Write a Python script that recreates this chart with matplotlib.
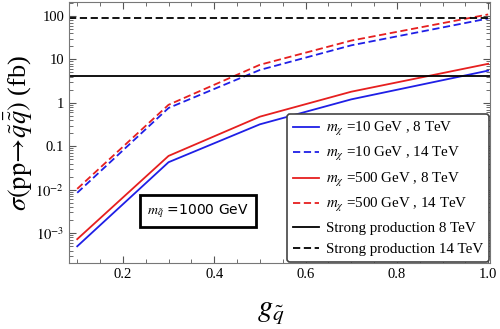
import matplotlib.pyplot as plt
import numpy as np
from matplotlib.ticker import FixedLocator, FuncFormatter, LogLocator, MultipleLocator

# couplings
g = [0.1, 0.3, 0.5, 0.7, 1.0]
# cross sections (fb)
sig_10_8 = [5.0e-4, 0.043, 0.32, 1.2, 5.5]
sig_10_14 = [8.5e-3, 0.76, 5.7, 21.0, 87.0]
sig_500_8 = [7.3e-4, 0.06, 0.48, 1.8, 7.9]
sig_500_14 = [1.05e-2, 0.9, 7.5, 27.0, 108.0]
strong_8 = 4.2
strong_14 = 90.0

plt.rcParams['font.family'] = ['Liberation Serif', 'DejaVu Serif']
plt.rcParams['mathtext.fontset'] = 'stix'

fig = plt.figure(figsize=(5, 3.29), dpi=100)
ax = fig.add_axes([0.138, 0.2, 0.842, 0.794])

ax.plot(g, sig_10_8, color='#1f1fe6', lw=1.3, label=r'$m_\chi$ =10 GeV , 8 TeV')
ax.plot(g, sig_10_14, color='#1f1fe6', lw=1.3, ls=(0, (4, 2)), label=r'$m_\chi$ =10 GeV , 14 TeV')
ax.plot(g, sig_500_8, color='#e61f1f', lw=1.3, label=r'$m_\chi$ =500 GeV , 8 TeV')
ax.plot(g, sig_500_14, color='#e61f1f', lw=1.3, ls=(0, (4, 2)), label=r'$m_\chi$ =500 GeV , 14 TeV')
ax.axhline(strong_8, color='black', lw=1.3, label='Strong production 8 TeV')
ax.axhline(strong_14, color='black', lw=1.3, ls=(0, (4, 2)), label='Strong production 14 TeV')

ax.set_yscale('log')
ax.set_xlim(0.082, 1.004)
ax.set_ylim(10**-3.69, 10**2.32)

ax.xaxis.set_major_locator(FixedLocator([0.2, 0.4, 0.6, 0.8, 1.0]))
ax.xaxis.set_minor_locator(MultipleLocator(0.05))
ax.xaxis.set_major_formatter(FuncFormatter(lambda v, p: '%.1f' % v))
ax.yaxis.set_major_locator(FixedLocator([1e-3, 1e-2, 0.1, 1, 10, 100]))
ax.yaxis.set_minor_locator(LogLocator(base=10, subs=np.arange(2, 10)))
ylabels = {1e-3: r'$10^{-3}$', 1e-2: r'$10^{-2}$', 0.1: '0.1', 1: '1', 10: '10', 100: '100'}
ax.yaxis.set_major_formatter(FuncFormatter(lambda v, p: ylabels.get(min(ylabels, key=lambda k: abs(np.log10(k) - np.log10(v))), '')))

ax.tick_params(which='both', direction='in', top=True, right=True, labelsize=10.5, colors='#555555', labelcolor='black')
ax.tick_params(which='major', length=5)
ax.tick_params(which='minor', length=3)
for s in ax.spines.values():
    s.set_color('#777777')

ax.set_xlabel(r'$g_{\tilde{q}}$', fontsize=22, labelpad=4)
ax.set_ylabel(r'$\sigma(\mathrm{pp}\!\rightarrow\!\tilde{q}\bar{\tilde{q}})$ (fb)', fontsize=19, labelpad=0)
ax.xaxis.set_label_coords(0.48, -0.13)

leg = ax.legend(loc='lower right', fontsize=10.8, frameon=True, fancybox=True,
                edgecolor='#444444', framealpha=1, handlelength=1.7, handletextpad=0.5,
                borderaxespad=0.05, labelspacing=0.5, borderpad=0.4)
leg.get_frame().set_linewidth(1.2)

ax.text(0.185, 0.2, r'$m_{\tilde{q}}$ =1000 GeV', transform=ax.transAxes, fontsize=10,
        family='DejaVu Sans', va='center',
        bbox=dict(boxstyle='square,pad=0.5', fc='white', ec='black', lw=2))

fig.savefig('out.png', dpi=100)
